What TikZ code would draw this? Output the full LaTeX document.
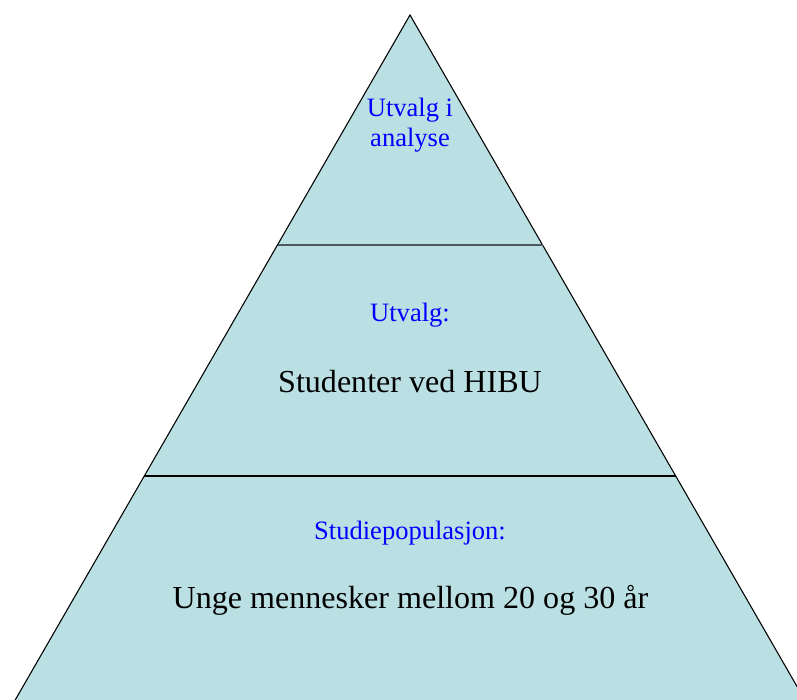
\documentclass[tikz,border=0pt]{standalone}
\usepackage{fontspec}
\setmainfont{Liberation Serif}
\definecolor{pyrfill}{RGB}{187,224,227}
\definecolor{pyrline}{RGB}{74,90,94}
\definecolor{labelblue}{RGB}{0,0,255}
\tikzset{
  level/.style={font=\fontsize{19.9}{21.8}\selectfont, text=labelblue, anchor=base, align=center, inner sep=0pt},
  group/.style={font=\fontsize{24.05}{26}\selectfont, text=black, anchor=base, inner sep=0pt},
}
\begin{document}
\begin{tikzpicture}[x=0.75pt, y=-0.75pt]
  % Frame of the picture (pixel coordinates)
  \useasboundingbox (0,0) rectangle (797,700);
  \clip (0,0) rectangle (797,700);

  % The pyramid (its base lies below the frame)
  \draw[fill=pyrfill, draw=black, line width=0.8pt] (410,15) -- (12.3,705) -- (807.7,705) -- cycle;
  % Dividing lines between the levels
  \draw[pyrline, line width=2.1pt] (277.5,245) -- (542.5,245);
  \draw[black, line width=1.4pt] (144,476) -- (676,476);

  % Labels of the levels
  \node[level] (analyse) at (410,146) {Utvalg i\\analyse};
  \node[level] (utvalg) at (410,321) {Utvalg:};
  \node[group] (hibu) at (410,392) {Studenter ved HIBU};
  \node[level] (studiepop) at (410,539) {Studiepopulasjon:};
  \node[group] (unge) at (410.5,608) {Unge mennesker mellom 20 og 30 år};
\end{tikzpicture}
\end{document}
